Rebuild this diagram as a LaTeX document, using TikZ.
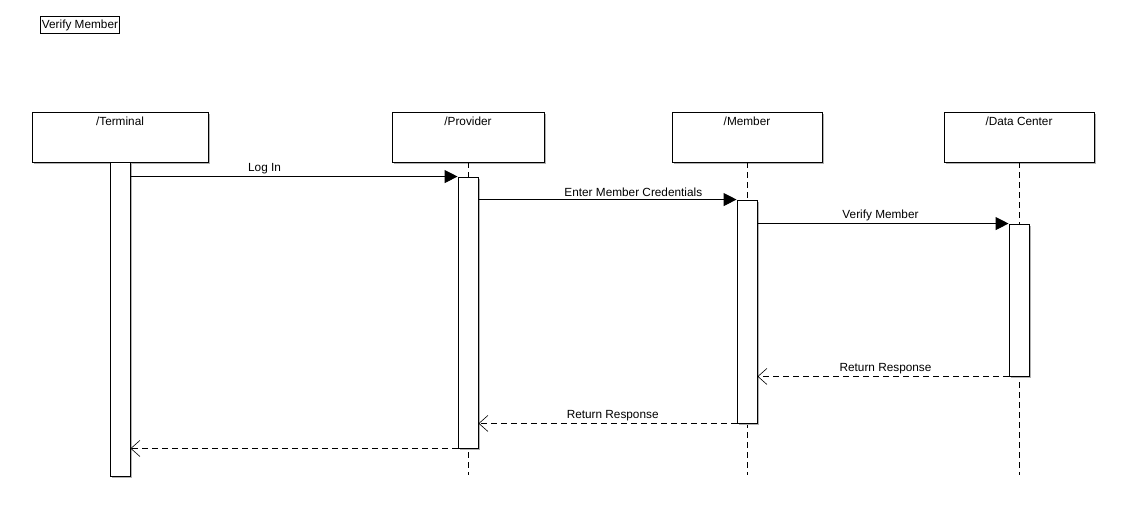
\documentclass[tikz,border=0pt]{standalone}
\usepackage{fontspec}
\setmainfont{Liberation Sans}
\usetikzlibrary{positioning}
\usetikzlibrary{calc,arrows.meta,shadows}

\begin{document}
\begin{tikzpicture}[x=1pt, y=-1pt, line width=0.9pt,
		every node/.style={font=\fontsize{11.8}{13}\selectfont},
		head/.style={draw, fill=white, minimum height=50pt, inner sep=0pt, drop shadow={shadow xshift=1.5pt, shadow yshift=-1.5pt, fill=black!30, opacity=1}},
		headtxt/.style={anchor=north, inner sep=0pt, yshift=-5pt},
		bar/.style={draw, fill=white, minimum width=20pt, inner sep=0pt, drop shadow={shadow xshift=1.5pt, shadow yshift=-1.5pt, fill=black!30, opacity=1}},
		life/.style={dash pattern=on 6pt off 4pt},
		call/.style={-{Triangle[length=13pt,width=13pt]}},
		reply/.style={dash pattern=on 6pt off 4pt, -{Straight Barb[length=9pt,width=16pt,line width=0.6pt]}},
		msg/.style={above, inner sep=2.5pt}]
		\useasboundingbox (0,0) rectangle (1126,525);
		% title
		\node[draw, inner sep=1.5pt, minimum height=17pt, anchor=north west] (title) at (40,16) {Verify Member};
		% heads
		\node[head, minimum width=176pt] (term) at (120,137) {};
		\node[head, minimum width=152pt] (prov) at (468,137) {};
		\node[head, minimum width=150pt] (memb) at (747,137) {};
		\node[head, minimum width=150pt] (data) at (1019,137) {};
		\node[headtxt] (termt) at (term.north) {/Terminal};
		\node[headtxt] (provt) at (prov.north) {/Provider};
		\node[headtxt] (membt) at (memb.north) {/Member};
		\node[headtxt] (datat) at (data.north) {/Data Center};
		% lifelines
		\coordinate (pend) at (468,475);
		\coordinate (mend) at (747,475);
		\coordinate (dend) at (1019,475);
		\draw[life] (prov.south) -- (pend);
		\draw[life] (memb.south) -- (mend);
		\draw[life] (data.south) -- (dend);
		% activation bars
		\node[bar, minimum height=314pt] (tbar) at (120,319) {};
		\node[bar, minimum height=271pt] (pbar) at (468,312.5) {};
		\node[bar, minimum height=223pt] (mbar) at (747,311.5) {};
		\node[bar, minimum height=152pt] (dbar) at (1019,300) {};
		% messages
		\draw[call] (tbar.east |- pbar.north) -- node[msg, pos=0.41] {Log In} (pbar.north west);
		\draw[call] (pbar.east |- mbar.north) -- node[msg, pos=0.6] {Enter Member Credentials} (mbar.north west);
		\draw[call] (mbar.east |- dbar.north) -- node[msg, pos=0.49] {Verify Member} (dbar.north west);
		\draw[reply] (dbar.south west) -- node[msg, pos=0.49] {Return Response} (mbar.east |- dbar.south);
		\draw[reply] (mbar.south west) -- node[msg, pos=0.48] {Return Response} (pbar.east |- mbar.south);
		\draw[reply] (pbar.south west) -- (tbar.east |- pbar.south);
	\end{tikzpicture}
\end{document}
